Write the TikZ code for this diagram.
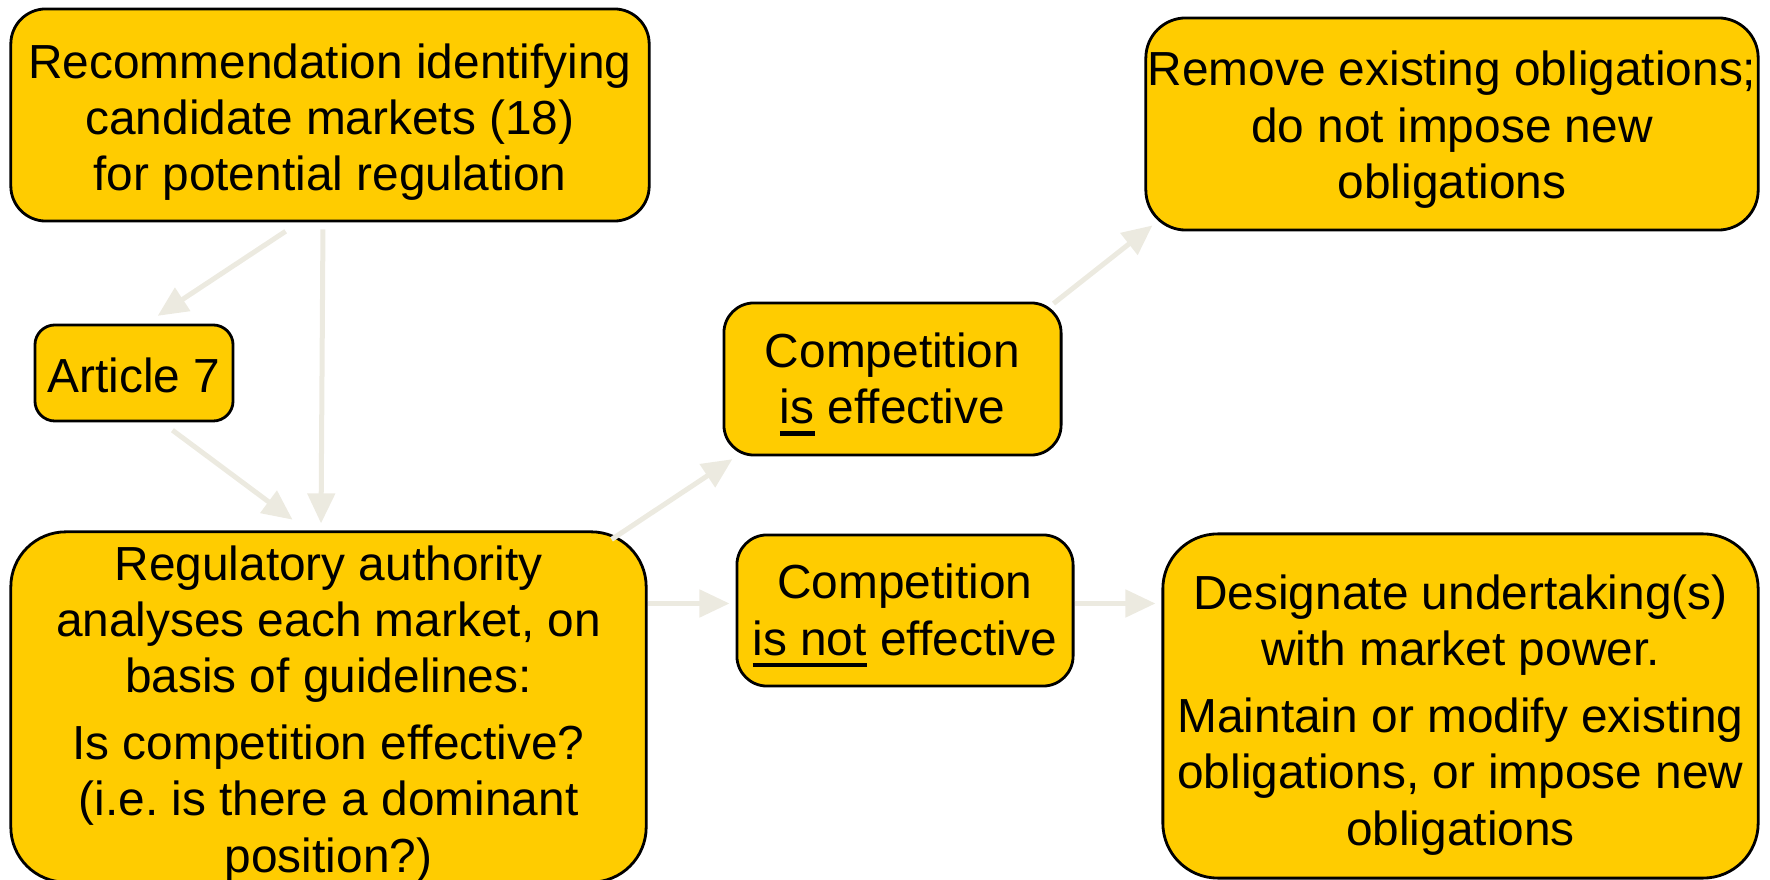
\documentclass[tikz,border=0pt]{standalone}
\usepackage{fontspec}
\setmainfont{Liberation Sans}
\usetikzlibrary{arrows.meta, calc}

\definecolor{boxgold}{RGB}{255,204,0}
\definecolor{arrowgrey}{RGB}{236,234,224}

% pushes the first line down a little
\newcommand{\topstrut}[1]{\rule{0pt}{#1}}
% thick underline
\newcommand{\ulword}[1]{\setbox0\hbox{#1}\rlap{\rule[-3.4pt]{\wd0}{1.2pt}}\box0\relax}

\begin{document}
\begin{tikzpicture}[
  x=0.01cm, y=-0.01cm,
  every node/.style={font=\fontsize{13.6}{16}\selectfont},
  box/.style={draw=black, line width=0.8pt, fill=boxgold, align=center,
    inner sep=0pt, rounded corners=#1},
  box/.default=0.3cm,
  arr/.style={-{Triangle[length=0.3cm, width=0.27cm]}, draw=arrowgrey,
    line width=0.05cm},
]
  \useasboundingbox (0,0) rectangle (1770,880);

  % left column
  \node[box=0.35cm, minimum width=6.38cm, minimum height=2.12cm] (rec) at (330,115)
       {\topstrut{14pt}Recommendation identifying\\candidate markets (18)\\for potential regulation};
  \node[box=0.2cm, minimum width=1.98cm, minimum height=0.96cm] (art) at (134,373)
       {\topstrut{11.5pt}Article 7};
  \node[box=0.55cm, minimum width=6.35cm, minimum height=3.44cm] (reg) at (328.5,707)
       {\topstrut{13.8pt}Regulatory authority\\analyses each market, on\\basis of guidelines:\\[3pt]
        Is competition effective?\\(i.e.\ is there a dominant\\position?)};

  % outcomes of the analysis
  \node[box=0.3cm, minimum width=3.37cm, minimum height=1.52cm] (eff) at (892.5,379)
       {\topstrut{12.8pt}Competition\\\ulword{is} effective};
  \node[box=0.3cm, minimum width=3.36cm, minimum height=1.51cm] (noteff) at (905,610.5)
       {\topstrut{12.8pt}Competition\\\ulword{is not} effective};

  % remedies
  \node[box=0.4cm, minimum width=6.12cm, minimum height=2.12cm] (remove) at (1452,124)
       {\topstrut{13.1pt}Remove existing obligations;\\do not impose new\\obligations};
  \node[box=0.55cm, minimum width=5.95cm, minimum height=3.44cm] (desig) at (1460.5,706)
       {\topstrut{15pt}Designate undertaking(s)\\with market power.\\[3pt]
        Maintain or modify existing\\obligations, or impose new\\obligations};

  \draw[arr, shorten <=0.16cm, shorten >=0.14cm]
    ([xshift=-0.31cm]rec.south) -- ([xshift=0.12cm]art.north);
  \draw[arr, shorten <=0.07cm, shorten >=0.07cm]
    ([xshift=-0.07cm]rec.south) -- ([xshift=-0.075cm]reg.north);
  \draw[arr, shorten <=0.13cm, shorten >=0.18cm]
    ([xshift=0.28cm]art.south) -- ([xshift=-0.215cm]reg.north);

  \draw[arr, shorten >=0.05cm]
    ([xshift=-0.36cm, yshift=-0.09cm]reg.north east) -- ([xshift=0.14cm]eff.south west);
  \draw[arr, shorten >=0.06cm]
    ($(reg.east |- noteff.west)+(0,-7)$) -- ($(noteff.west)+(0,-7)$);

  \draw[arr]
    ([xshift=-0.09cm, yshift=-0.02cm]eff.north east)
    -- ([xshift=0.08cm, yshift=0.06cm]remove.south west);
  \draw[arr, shorten >=0.06cm]
    ($(noteff.east)+(0,-7)$) -- ($(noteff.east -| desig.west)+(0,-7)$);
\end{tikzpicture}
\end{document}
